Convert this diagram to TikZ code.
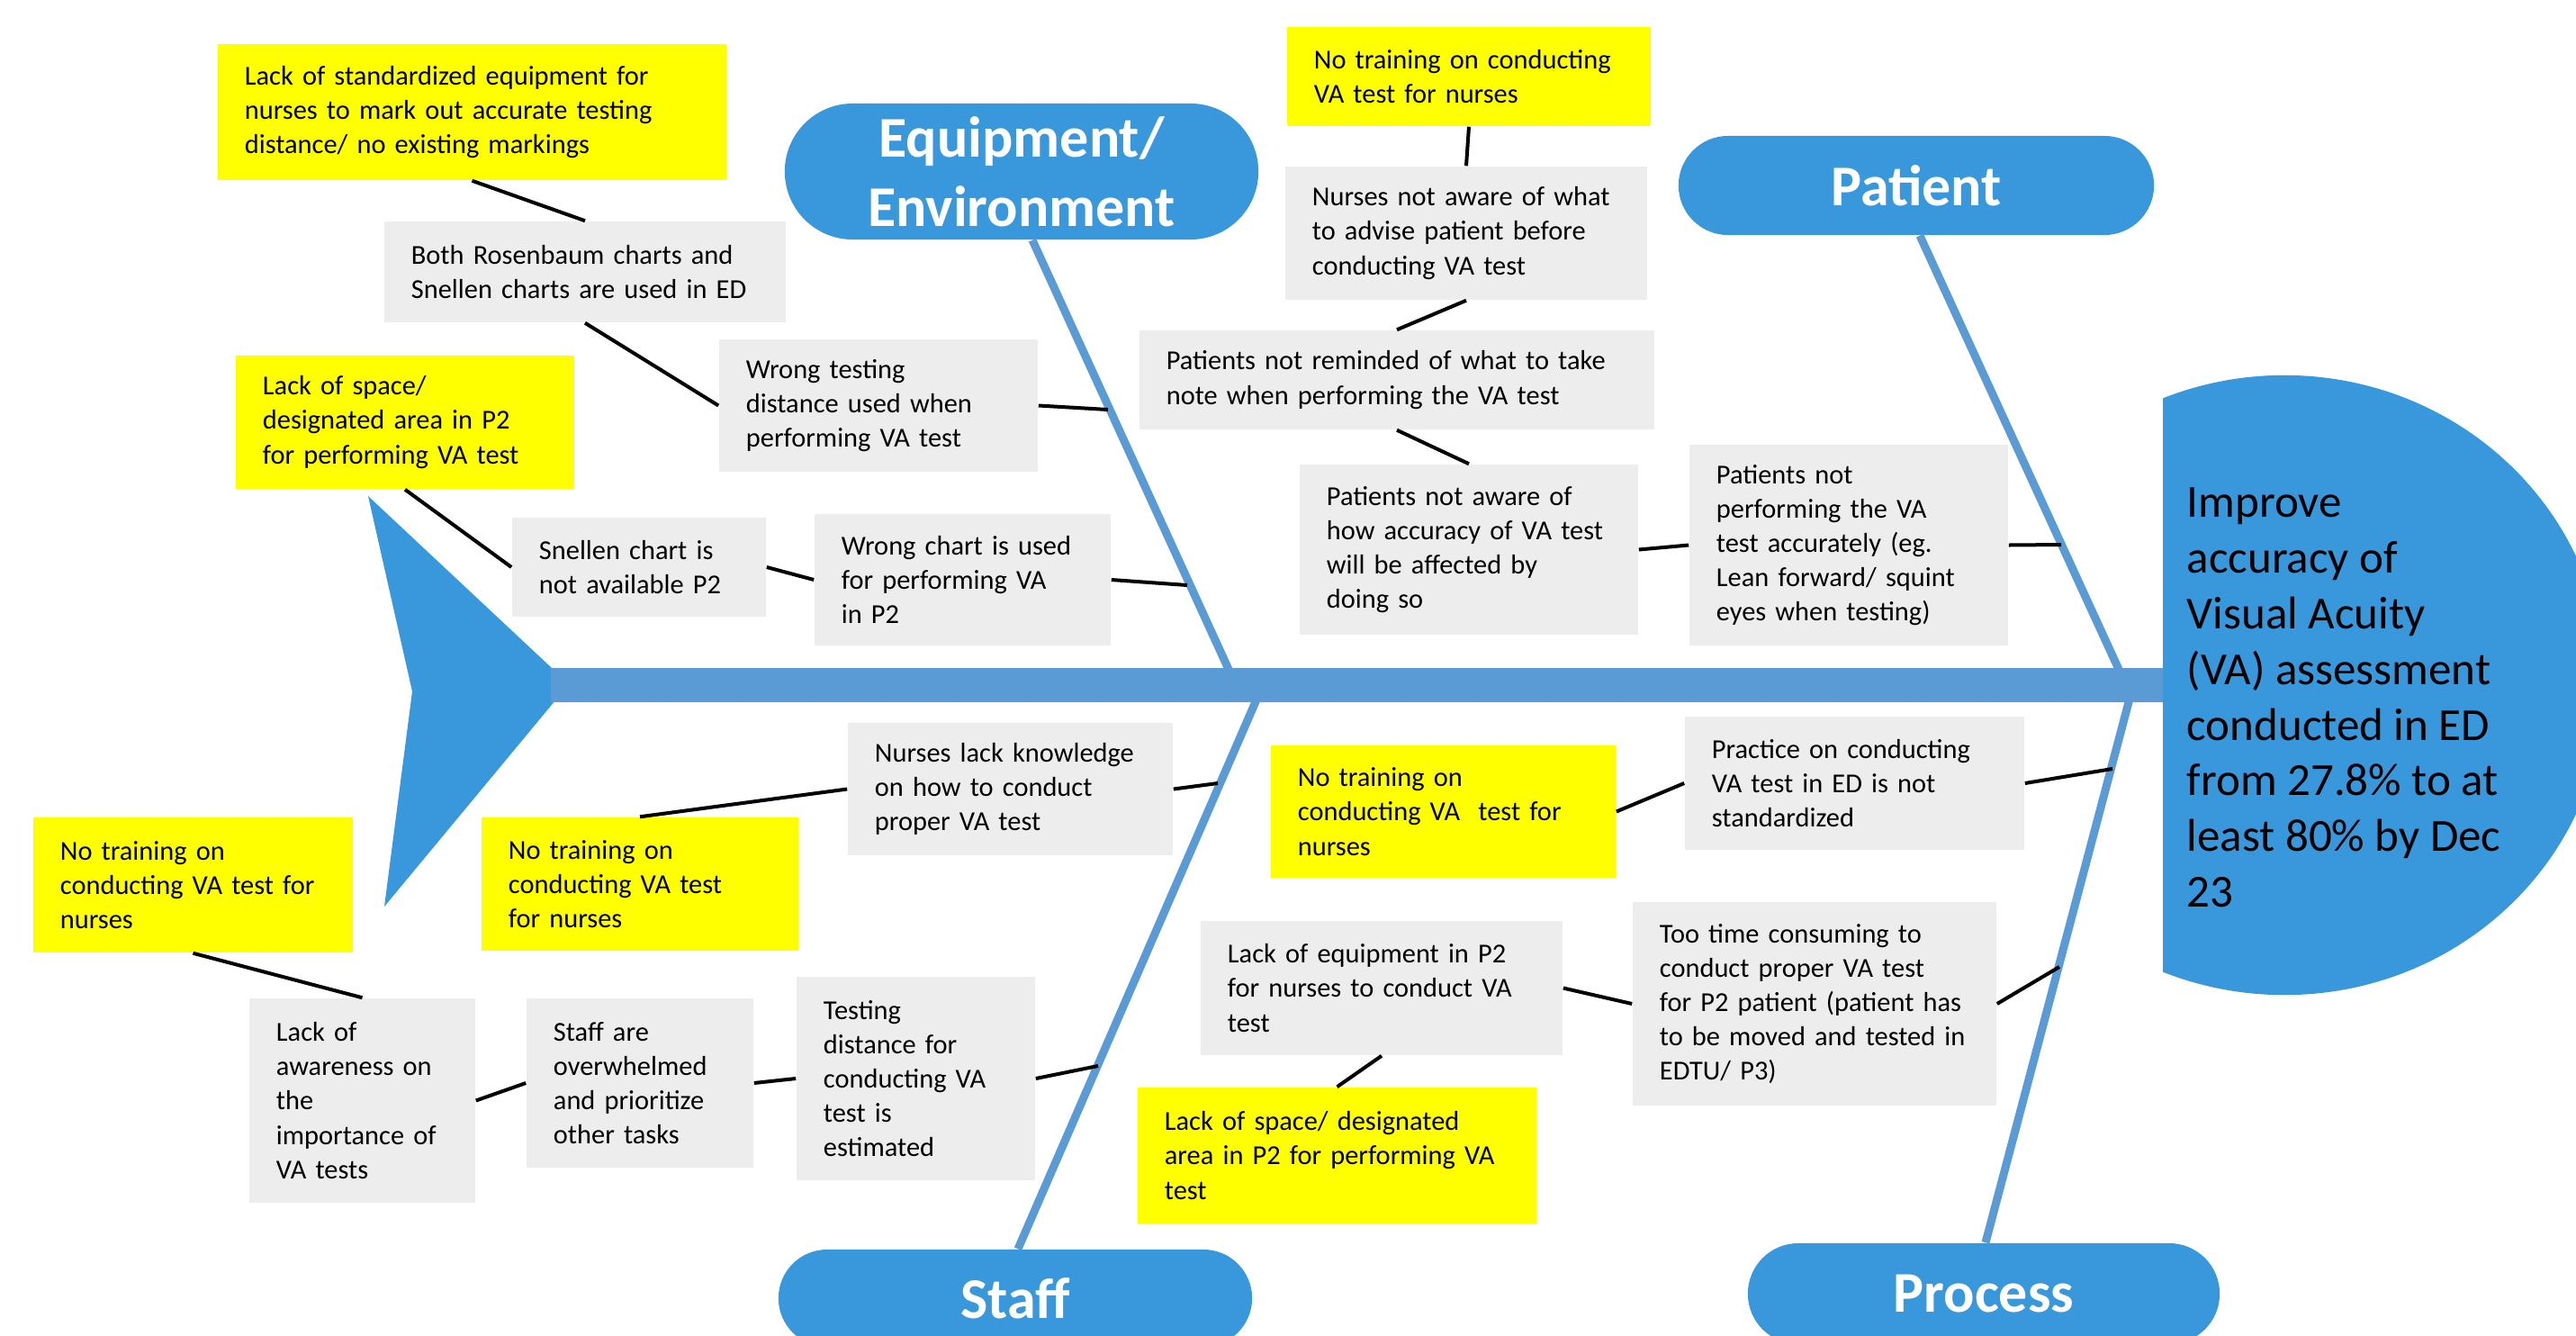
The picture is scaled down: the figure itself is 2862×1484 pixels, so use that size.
\documentclass[tikz,border=0pt]{standalone}
\usepackage{fontspec}
\setmainfont{Carlito}
\definecolor{fishblue}{HTML}{3898DB}
\definecolor{bonecol}{HTML}{5B9BD5}
\definecolor{causegrey}{HTML}{EDEDED}
\definecolor{rootyellow}{HTML}{FFFF00}

\begin{document}
\begin{tikzpicture}[x=0.01cm, y=-0.01cm,
    cause/.style={fill=causegrey, align=left, inner xsep=0.3cm, inner ysep=0pt,
      font=\fontsize{8.65}{10.86}\selectfont},
    root/.style={cause, fill=rootyellow},
    group/.style={fill=fishblue, text=white, align=center, inner sep=0pt,
      font=\fontsize{18.2}{22}\selectfont\bfseries},
    bone/.style={draw=bonecol, line width=0.09cm},
    link/.style={draw=black, line width=0.04cm}]
  \useasboundingbox (0,0) rectangle (2862,1484);

  \begin{scope}
    \clip (2403,0) rectangle (2862,1484);
    \fill[fishblue] (2538,761) ellipse [x radius=3.56cm, y radius=3.44cm];
  \end{scope}
  \fill[fishblue] (409,551) -- (613,742) -- (617,778) -- (427,1007) -- (458,768) -- cycle;

  \node[anchor=north west, align=left, inner sep=0pt,
    font=\fontsize{14.5}{17.6}\selectfont] (goal) at (2429,541)
    {Improve\\accuracy of\\Visual Acuity\\(VA) assessment\\conducted in ED\\from 27.8\% to at\\least 80\% by Dec\\23};

  \node[group, minimum width=5.26cm, minimum height=1.51cm, rounded corners=0.755cm] (eq) at (1135,190.5) {Equipment/\\Environment};
  \node[group, minimum width=5.28cm, minimum height=1.10cm, rounded corners=0.55cm] (pa) at (2129,206) {Patient};
  \node[group, minimum width=5.26cm, minimum height=1.08cm, rounded corners=0.54cm] (st) at (1128,1442) {Staff};
  \node[group, minimum width=5.24cm, minimum height=1.12cm, rounded corners=0.56cm] (pc) at (2204,1437) {Process};

  \node[root, text width=5.05cm, minimum height=1.51cm] (eq1) at (524.5,124.5) {Lack of standardized equipment for\\nurses to mark out accurate testing\\distance/ no existing markings};
  \node[cause, text width=3.86cm, minimum height=1.12cm] (eq2) at (650,302) {Both Rosenbaum charts and\\Snellen charts are used in ED};
  \node[cause, text width=2.94cm, minimum height=1.47cm] (eq3) at (976,450.5) {Wrong testing\\distance used when\\performing VA test};
  \node[root, text width=3.16cm, minimum height=1.48cm] (eq4) at (450,469) {Lack of space/\\designated area in P2\\for performing VA test};
  \node[cause, text width=2.22cm, minimum height=1.10cm] (eq5) at (710,630) {Snellen chart is\\not available P2};
  \node[cause, text width=2.69cm, minimum height=1.46cm] (eq6) at (1069.5,644) {Wrong chart is used\\for performing VA\\in P2};

  \node[root, text width=3.44cm, minimum height=1.10cm] (pa1) at (1632,85) {No training on conducting\\VA test for nurses};
  \node[cause, text width=3.42cm, minimum height=1.48cm] (pa2) at (1629,259) {Nurses not aware of what\\to advise patient before\\conducting VA test};
  \node[cause, text width=5.12cm, minimum height=1.10cm] (pa3) at (1552,422) {Patients not reminded of what to take\\note when performing the VA test};
  \node[cause, text width=3.16cm, minimum height=1.89cm] (pa4) at (1632,610.5) {Patients not aware of\\how accuracy of VA test\\will be affected by\\doing so};
  \node[cause, text width=2.94cm, minimum height=2.23cm] (pa5) at (2054,605.5) {Patients not\\performing the VA\\test accurately (eg.\\Lean forward/ squint\\eyes when testing)};

  \node[cause, text width=3.01cm, minimum height=1.47cm] (st1) at (1122.5,876.5) {Nurses lack knowledge\\on how to conduct\\proper VA test};
  \node[root, text width=2.92cm, minimum height=1.48cm] (st2) at (711,982) {No training on\\conducting VA test\\for nurses};
  \node[root, text width=2.95cm, minimum height=1.50cm] (st3) at (214.5,983) {No training on\\conducting VA test for\\nurses};
  \node[cause, text width=1.91cm, minimum height=2.27cm] (st4) at (402.5,1222.5) {Lack of\\awareness on\\the\\importance of\\VA tests};
  \node[cause, text width=1.92cm, minimum height=1.88cm] (st5) at (711,1203) {Staff are\\overwhelmed\\and prioritize\\other tasks};
  \node[cause, text width=2.05cm, minimum height=2.26cm] (st6) at (1017.5,1198) {Testing\\distance for\\conducting VA\\test is\\estimated};

  \node[root, text width=3.23cm, minimum height=1.47cm] (pc1) at (1603.5,901.5) {No training on\\conducting VA\ \ test for\\nurses};
  \node[cause, text width=3.17cm, minimum height=1.48cm] (pc2) at (2060.5,870) {Practice on conducting\\VA test in ED is not\\standardized};
  \node[cause, text width=3.42cm, minimum height=1.49cm] (pc3) at (1535,1097.5) {Lack of equipment in P2\\for nurses to conduct VA\\test};
  \node[root, text width=3.83cm, minimum height=1.51cm] (pc4) at (1485.5,1283.5) {Lack of space/ designated\\area in P2 for performing VA\\test};
  \node[cause, text width=3.44cm, minimum height=2.26cm] (pc5) at (2016,1115) {Too time consuming to\\conduct proper VA test\\for P2 patient (patient has\\to be moved and tested in\\EDTU/ P3)};

  \coordinate (eqf) at (1373,761);
  \coordinate (paf) at (2362,761);
  \coordinate (stf) at (1403,761);
  \coordinate (pcf) at (2370,761);
  \draw[bone] ([xshift=0.12cm]eq.south) -- (eqf);
  \draw[bone] ([xshift=0.04cm]pa.south) -- (paf);
  \draw[bone] ([xshift=0.03cm]st.north) -- (stf);
  \draw[bone] ([xshift=0.02cm]pc.north) -- (pcf);

  \coordinate (tail) at (612,761);
  \coordinate (head) at (2403,761);
  \draw[bonecol, line width=0.38cm] (tail) -- (head);

  \coordinate (eqa) at (1231,455);
  \coordinate (eqb) at (1319,650);
  \coordinate (paa) at (2290,605);
  \coordinate (sta) at (1353,870);
  \coordinate (stb) at (1220,1184);
  \coordinate (pca) at (2347,854);
  \coordinate (pcb) at (2288,1074);

  \draw[link] (eq1.south) -- (eq2.north);
  \draw[link] (eq2.south) -- (eq3.west);
  \draw[link] (eq3.east) -- (eqa);
  \draw[link] (eq4.south) -- (eq5.west);
  \draw[link] (eq5.east) -- (eq6.west);
  \draw[link] (eq6.east) -- (eqb);

  \draw[link] (pa1.south) -- (pa2.north);
  \draw[link] (pa2.south) -- (pa3.north);
  \draw[link] (pa3.south) -- (pa4.north);
  \draw[link] (pa4.east) -- (pa5.west);
  \draw[link] (pa5.east) -- (paa);

  \draw[link] (st2.north) -- (st1.west);
  \draw[link] (st1.east) -- (sta);
  \draw[link] (st3.south) -- (st4.north);
  \draw[link] (st4.east) -- (st5.west);
  \draw[link] (st5.east) -- (st6.west);
  \draw[link] (st6.east) -- (stb);

  \draw[link] (pc1.east) -- (pc2.west);
  \draw[link] (pc2.east) -- (pca);
  \draw[link] (pc3.south) -- (pc4.north);
  \draw[link] (pc3.east) -- (pc5.west);
  \draw[link] (pc5.east) -- (pcb);
\end{tikzpicture}
\end{document}
